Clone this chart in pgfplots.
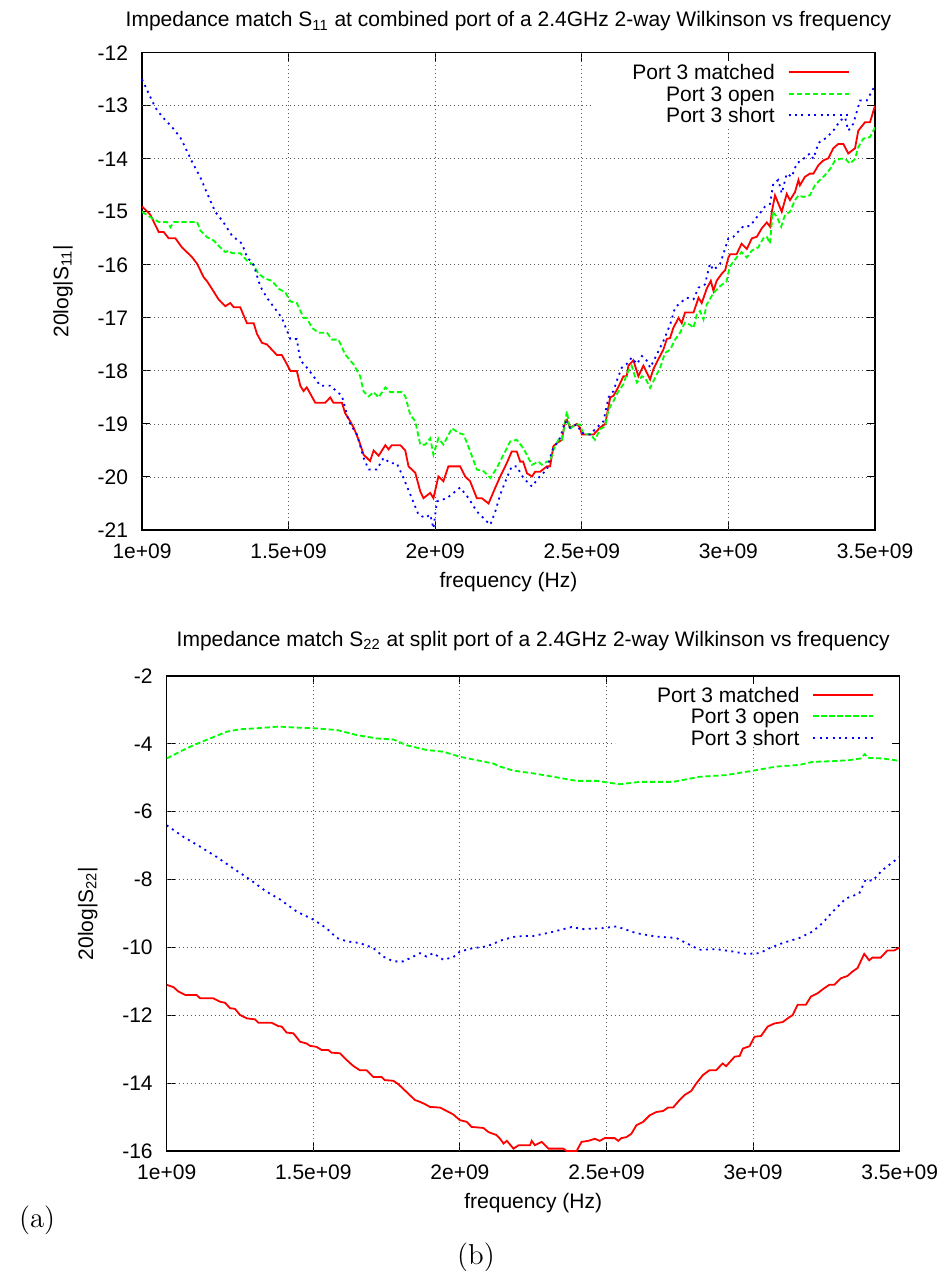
\documentclass[border=0pt]{standalone}
\usepackage{pgfplots}
\pgfplotsset{compat=1.18}
\usepackage{fontspec}
\newfontfamily\gpfont{Liberation Sans}
\newcommand\gpfs{\gpfont\fontsize{10.5}{12.6}\selectfont}
\tikzset{gridl/.style={black!65, line width=0.45pt, dash pattern=on 0.6pt off 1.4pt}}
\pgfplotsset{
  gpaxis/.style={
    scale only axis, width=366.5pt,
    xmin=1, xmax=3.5, enlargelimits=false,
    xtick={1,1.5,2,2.5,3,3.5},
    xticklabels={1e+09,1.5e+09,2e+09,2.5e+09,3e+09,3.5e+09},
    tick align=inside, major tick length=4pt,
    tick style={black, line width=0.5pt},
    axis line style={black, line width=0.75pt},
    font=\gpfs,
    xticklabel style={font=\gpfs, anchor=base, yshift=-14pt},
    yticklabel style={font=\gpfs, anchor=east, xshift=-3.5pt},
    xlabel style={font=\gpfs, at={(axis description cs:0.5,0)}, anchor=base, yshift=-28.75pt},
    ylabel style={font=\gpfs, at={(axis description cs:-0.1078,0.5)}, anchor=center},
    title style={font=\gpfs, at={(axis description cs:0.5,1)}, anchor=base},
    legend style={draw=none, fill=none, at={(axis description cs:1,1)}, anchor=north east,
      xshift=-12.5pt, inner xsep=0pt, inner ysep=0pt, row sep=0pt, column sep=6pt,
      nodes={inner sep=0.5pt, text height=7.5pt, text depth=2.2pt}, font=\gpfs},
    legend cell align=right,
    legend plot pos=right,
    legend image code/.code={\draw[##1] (0pt,1.1pt) -- (30pt,1.1pt);},
  },
  matched/.style={color=red, line width=0.9pt},
  open/.style={color=green, line width=0.9pt, dash pattern=on 2.6pt off 1.4pt},
  short/.style={color=blue, line width=0.9pt, dash pattern=on 1pt off 2.2pt},
}
\begin{document}
\begin{tikzpicture}
\path[use as bounding box] (0pt,0pt) rectangle (473pt,-635.5pt);
% ---------------- top plot ----------------
\begin{axis}[gpaxis,
  at={(71pt,-265pt)}, anchor=south west, height=238.65pt,
  ymin=-21, ymax=-12,
  ytick={-21,-20,-19,-18,-17,-16,-15,-14,-13,-12},
  yticklabels={-21,-20,-19,-18,-17,-16,-15,-14,-13,-12},
  title style={yshift=7pt},
  legend style={yshift=-5.3pt},
  title={Impedance match S\textsubscript{11} at combined port of a 2.4GHz 2-way Wilkinson vs frequency},
  xlabel={frequency (Hz)},
  ylabel={20log|S\textsubscript{11}|},
]
% grid (hidden behind the key area, as in the original)
\draw[gridl] (axis cs:1.5,-21) -- (axis cs:1.5,-12);
\draw[gridl] (axis cs:2,-21) -- (axis cs:2,-12);
\draw[gridl] (axis cs:2.5,-21) -- (axis cs:2.5,-12);
\draw[gridl] (axis cs:3,-21) -- (axis cs:3,-13.40);
\draw[gridl] (axis cs:1,-20) -- (axis cs:3.5,-20);
\draw[gridl] (axis cs:1,-19) -- (axis cs:3.5,-19);
\draw[gridl] (axis cs:1,-18) -- (axis cs:3.5,-18);
\draw[gridl] (axis cs:1,-17) -- (axis cs:3.5,-17);
\draw[gridl] (axis cs:1,-16) -- (axis cs:3.5,-16);
\draw[gridl] (axis cs:1,-15) -- (axis cs:3.5,-15);
\draw[gridl] (axis cs:1,-14) -- (axis cs:3.5,-14);
\draw[gridl] (axis cs:1,-13) -- (axis cs:2.534,-13);
\addplot[matched] coordinates {
(1.000,-14.90) (1.028,-15.05) (1.057,-15.38) (1.074,-15.38) (1.091,-15.50) (1.114,-15.50) (1.136,-15.67) (1.153,-15.76)
(1.170,-15.85) (1.188,-15.98) (1.210,-16.23) (1.222,-16.31) (1.244,-16.50) (1.261,-16.65) (1.284,-16.78) (1.301,-16.72)
(1.313,-16.80) (1.335,-16.80) (1.358,-17.10) (1.381,-17.10) (1.392,-17.30) (1.409,-17.47) (1.426,-17.50) (1.443,-17.60)
(1.460,-17.70) (1.477,-17.70) (1.494,-17.87) (1.506,-18.00) (1.528,-18.00) (1.540,-18.28) (1.551,-18.38) (1.562,-18.31)
(1.591,-18.60) (1.625,-18.60) (1.642,-18.50) (1.653,-18.60) (1.682,-18.60) (1.693,-18.80) (1.705,-18.90) (1.722,-19.07)
(1.739,-19.30) (1.756,-19.58) (1.778,-19.70) (1.790,-19.50) (1.807,-19.60) (1.830,-19.40) (1.841,-19.48) (1.852,-19.40)
(1.881,-19.40) (1.898,-19.50) (1.909,-19.80) (1.932,-19.92) (1.949,-20.27) (1.960,-20.40) (1.983,-20.30) (1.994,-20.40)
(2.011,-19.99) (2.028,-20.08) (2.045,-19.80) (2.085,-19.80) (2.102,-19.99) (2.119,-20.08) (2.142,-20.40) (2.159,-20.40)
(2.182,-20.50) (2.205,-20.20) (2.222,-19.99) (2.244,-19.74) (2.261,-19.52) (2.278,-19.52) (2.290,-19.71) (2.300,-19.71)
(2.313,-19.93) (2.330,-19.99) (2.341,-19.90) (2.358,-19.90) (2.381,-19.80) (2.392,-19.80) (2.403,-19.42) (2.415,-19.36)
(2.432,-19.30) (2.443,-18.95) (2.449,-18.92) (2.460,-19.07) (2.483,-19.00) (2.494,-19.07) (2.500,-19.20) (2.540,-19.20)
(2.562,-19.07) (2.580,-19.00) (2.597,-18.50) (2.608,-18.47) (2.625,-18.30) (2.642,-18.10) (2.653,-18.10) (2.659,-17.90)
(2.676,-17.80) (2.693,-18.10) (2.710,-17.90) (2.733,-18.16) (2.744,-17.97) (2.761,-17.78) (2.778,-17.60) (2.790,-17.40)
(2.801,-17.38) (2.812,-17.19) (2.830,-17.00) (2.841,-17.10) (2.852,-16.90) (2.881,-16.90) (2.898,-16.62) (2.909,-16.72)
(2.926,-16.45) (2.940,-16.30) (2.949,-16.49) (2.960,-16.30) (2.977,-16.17) (2.989,-16.10) (3.000,-15.86) (3.006,-15.80)
(3.028,-15.80) (3.045,-15.60) (3.063,-15.70) (3.080,-15.50) (3.097,-15.47) (3.114,-15.31) (3.131,-15.20) (3.142,-15.28)
(3.148,-15.00) (3.159,-14.69) (3.182,-15.00) (3.199,-14.66) (3.210,-14.78) (3.227,-14.63) (3.239,-14.40) (3.244,-14.50)
(3.261,-14.34) (3.278,-14.28) (3.290,-14.28) (3.307,-14.12) (3.324,-14.03) (3.341,-13.99) (3.358,-13.80) (3.375,-13.72)
(3.392,-13.72) (3.409,-13.90) (3.432,-13.80) (3.443,-13.47) (3.466,-13.31) (3.483,-13.31) (3.500,-13.00)
};
\addlegendentry{Port 3 matched}
\addplot[open] coordinates {
(1.000,-15.00) (1.028,-15.10) (1.057,-15.19) (1.085,-15.19) (1.097,-15.29) (1.108,-15.19) (1.188,-15.19) (1.199,-15.35)
(1.222,-15.48) (1.244,-15.54) (1.261,-15.64) (1.284,-15.76) (1.295,-15.73) (1.307,-15.78) (1.335,-15.78) (1.358,-15.92)
(1.381,-16.01) (1.398,-16.17) (1.420,-16.26) (1.443,-16.30) (1.466,-16.45) (1.489,-16.52) (1.506,-16.69) (1.528,-16.72)
(1.551,-17.00) (1.562,-17.00) (1.580,-17.19) (1.602,-17.28) (1.631,-17.28) (1.648,-17.41) (1.670,-17.41) (1.693,-17.69)
(1.722,-17.88) (1.744,-18.10) (1.756,-18.39) (1.773,-18.48) (1.790,-18.40) (1.807,-18.50) (1.830,-18.31) (1.847,-18.40)
(1.886,-18.40) (1.898,-18.48) (1.915,-18.83) (1.932,-18.95) (1.949,-19.39) (1.966,-19.39) (1.983,-19.27) (1.994,-19.58)
(2.011,-19.27) (2.028,-19.39) (2.057,-19.08) (2.080,-19.17) (2.097,-19.20) (2.119,-19.51) (2.142,-19.86) (2.165,-19.89)
(2.188,-20.02) (2.210,-19.83) (2.233,-19.58) (2.256,-19.33) (2.278,-19.30) (2.301,-19.46) (2.330,-19.77) (2.352,-19.71)
(2.364,-19.77) (2.381,-19.71) (2.392,-19.71) (2.403,-19.49) (2.420,-19.30) (2.432,-19.30) (2.443,-18.98) (2.449,-18.76)
(2.460,-19.10) (2.477,-19.01) (2.494,-19.01) (2.506,-19.20) (2.528,-19.19) (2.545,-19.30) (2.562,-19.10) (2.580,-19.04)
(2.591,-18.73) (2.608,-18.57) (2.625,-18.38) (2.642,-18.25) (2.653,-18.06) (2.670,-17.90) (2.688,-18.22) (2.705,-18.10)
(2.716,-18.13) (2.733,-18.32) (2.750,-18.13) (2.767,-17.94) (2.784,-17.66) (2.801,-17.60) (2.818,-17.41) (2.835,-17.28)
(2.852,-17.09) (2.869,-17.13) (2.881,-17.19) (2.892,-16.94) (2.903,-16.87) (2.915,-17.03) (2.926,-16.75) (2.949,-16.53)
(2.972,-16.40) (2.994,-16.31) (3.004,-16.04) (3.028,-15.86) (3.045,-15.76) (3.063,-15.86) (3.080,-15.73) (3.102,-15.67)
(3.119,-15.50) (3.131,-15.47) (3.142,-15.60) (3.151,-15.00) (3.165,-15.09) (3.180,-15.28) (3.193,-15.06) (3.210,-15.00)
(3.227,-14.78) (3.239,-14.69) (3.256,-14.72) (3.278,-14.69) (3.295,-14.50) (3.312,-14.40) (3.329,-14.31) (3.347,-14.19)
(3.364,-14.03) (3.381,-14.00) (3.398,-14.00) (3.415,-14.09) (3.432,-14.00) (3.443,-13.78) (3.460,-13.62) (3.483,-13.59)
(3.500,-13.41)
};
\addlegendentry{Port 3 open}
\addplot[short] coordinates {
(1.000,-12.50) (1.045,-13.03) (1.068,-13.20) (1.102,-13.40) (1.131,-13.60) (1.153,-13.85) (1.170,-14.05) (1.199,-14.35)
(1.222,-14.65) (1.250,-15.00) (1.278,-15.20) (1.307,-15.45) (1.341,-15.60) (1.358,-15.85) (1.381,-16.00) (1.403,-16.40)
(1.426,-16.62) (1.477,-17.00) (1.506,-17.40) (1.528,-17.40) (1.540,-17.80) (1.557,-17.90) (1.585,-18.10) (1.608,-18.28)
(1.642,-18.28) (1.682,-18.47) (1.705,-18.95) (1.733,-19.20) (1.756,-19.64) (1.773,-19.86) (1.801,-19.86) (1.824,-19.64)
(1.847,-19.74) (1.869,-19.74) (1.892,-20.02) (1.915,-20.33) (1.943,-20.71) (1.966,-20.77) (1.983,-20.71) (1.994,-20.97)
(2.006,-20.46) (2.040,-20.40) (2.085,-20.20) (2.114,-20.40) (2.142,-20.65) (2.176,-20.84) (2.188,-20.90) (2.205,-20.65)
(2.222,-20.33) (2.244,-20.02) (2.261,-19.80) (2.278,-19.80) (2.301,-20.02) (2.330,-20.18) (2.352,-20.02) (2.381,-19.86)
(2.398,-19.51) (2.426,-19.26) (2.443,-18.95) (2.460,-19.07) (2.483,-19.01) (2.500,-19.17) (2.528,-19.20) (2.551,-19.07)
(2.574,-18.95) (2.591,-18.50) (2.608,-18.38) (2.619,-18.19) (2.636,-17.94) (2.653,-17.87) (2.670,-17.75) (2.688,-17.87)
(2.705,-17.72) (2.722,-17.81) (2.733,-17.94) (2.756,-17.69) (2.778,-17.44) (2.801,-17.13) (2.818,-16.81) (2.835,-16.72)
(2.858,-16.62) (2.881,-16.65) (2.898,-16.43) (2.920,-16.37) (2.937,-15.98) (2.949,-16.10) (2.972,-15.98) (3.000,-15.50)
(3.017,-15.47) (3.051,-15.27) (3.074,-15.27) (3.097,-15.10) (3.125,-14.90) (3.142,-14.85) (3.153,-14.47) (3.170,-14.40)
(3.182,-14.65) (3.199,-14.28) (3.216,-14.34) (3.233,-14.09) (3.256,-14.00) (3.278,-13.90) (3.290,-14.00) (3.307,-13.70)
(3.335,-13.60) (3.358,-13.47) (3.381,-13.28) (3.398,-13.22) (3.409,-13.47) (3.426,-13.34) (3.449,-12.90) (3.472,-12.90)
(3.500,-12.62)
};
\addlegendentry{Port 3 short}
\end{axis}
% ---------------- bottom plot ----------------
\begin{axis}[gpaxis,
  at={(83.35pt,-575.5pt)}, anchor=south west, height=237.5pt,
  ymin=-16, ymax=-2,
  ytick={-16,-14,-12,-10,-8,-6,-4,-2},
  yticklabels={-16,-14,-12,-10,-8,-6,-4,-2},
  title style={yshift=8.8pt},
  legend style={yshift=-5pt},
  title={Impedance match S\textsubscript{22} at split port of a 2.4GHz 2-way Wilkinson vs frequency},
  xlabel={frequency (Hz)},
  ylabel={20log|S\textsubscript{22}|},
]
\draw[gridl] (axis cs:1.5,-16) -- (axis cs:1.5,-2);
\draw[gridl] (axis cs:2,-16) -- (axis cs:2,-2);
\draw[gridl] (axis cs:2.5,-16) -- (axis cs:2.5,-2);
\draw[gridl] (axis cs:3,-16) -- (axis cs:3,-4.09);
\draw[gridl] (axis cs:1,-14) -- (axis cs:3.5,-14);
\draw[gridl] (axis cs:1,-12) -- (axis cs:3.5,-12);
\draw[gridl] (axis cs:1,-10) -- (axis cs:3.5,-10);
\draw[gridl] (axis cs:1,-8) -- (axis cs:3.5,-8);
\draw[gridl] (axis cs:1,-6) -- (axis cs:3.5,-6);
\draw[gridl] (axis cs:1,-4) -- (axis cs:2.528,-4);
\addplot[matched] coordinates {
(1.000,-11.10) (1.023,-11.17) (1.040,-11.30) (1.063,-11.40) (1.102,-11.40) (1.114,-11.50) (1.159,-11.50) (1.182,-11.60)
(1.199,-11.63) (1.216,-11.79) (1.233,-11.81) (1.250,-11.99) (1.273,-12.09) (1.301,-12.12) (1.313,-12.22) (1.358,-12.22)
(1.381,-12.32) (1.392,-12.33) (1.409,-12.51) (1.432,-12.53) (1.455,-12.78) (1.477,-12.83) (1.489,-12.90) (1.511,-12.93)
(1.528,-13.02) (1.551,-13.02) (1.562,-13.10) (1.591,-13.12) (1.614,-13.32) (1.636,-13.49) (1.659,-13.62) (1.682,-13.62)
(1.705,-13.82) (1.733,-13.82) (1.744,-13.91) (1.773,-13.93) (1.790,-14.03) (1.818,-14.26) (1.847,-14.50) (1.864,-14.55)
(1.881,-14.62) (1.898,-14.70) (1.932,-14.72) (1.955,-14.82) (1.977,-14.92) (2.000,-15.09) (2.023,-15.14) (2.040,-15.29)
(2.080,-15.32) (2.097,-15.44) (2.125,-15.53) (2.137,-15.64) (2.149,-15.78) (2.160,-15.70) (2.183,-15.93) (2.200,-15.83)
(2.239,-15.83) (2.245,-15.70) (2.256,-15.83) (2.279,-15.73) (2.302,-15.93) (2.353,-15.93) (2.364,-16.00) (2.398,-16.00)
(2.415,-15.73) (2.438,-15.70) (2.460,-15.64) (2.477,-15.70) (2.494,-15.62) (2.528,-15.62) (2.540,-15.70) (2.551,-15.62)
(2.568,-15.59) (2.585,-15.49) (2.602,-15.24) (2.625,-15.14) (2.647,-14.95) (2.670,-14.85) (2.693,-14.82) (2.710,-14.72)
(2.727,-14.72) (2.749,-14.50) (2.766,-14.35) (2.789,-14.23) (2.806,-14.01) (2.829,-13.76) (2.851,-13.62) (2.874,-13.62)
(2.896,-13.42) (2.908,-13.50) (2.937,-13.22) (2.954,-13.20) (2.965,-12.98) (2.988,-12.91) (3.005,-12.63) (3.027,-12.61)
(3.050,-12.33) (3.073,-12.24) (3.101,-12.20) (3.118,-12.09) (3.135,-11.99) (3.152,-11.69) (3.180,-11.69) (3.197,-11.45)
(3.220,-11.35) (3.243,-11.20) (3.260,-11.10) (3.277,-11.10) (3.299,-10.91) (3.322,-10.84) (3.339,-10.71) (3.356,-10.61)
(3.379,-10.19) (3.396,-10.38) (3.407,-10.30) (3.435,-10.30) (3.458,-10.09) (3.481,-10.09) (3.500,-10.00)
};
\addlegendentry{Port 3 matched}
\addplot[open] coordinates {
(1.000,-4.43) (1.045,-4.23) (1.091,-4.04) (1.148,-3.84) (1.205,-3.64) (1.250,-3.57) (1.307,-3.54) (1.381,-3.49)
(1.443,-3.52) (1.500,-3.54) (1.580,-3.59) (1.648,-3.74) (1.716,-3.84) (1.773,-3.87) (1.818,-4.04) (1.886,-4.18)
(1.943,-4.23) (2.000,-4.38) (2.057,-4.48) (2.114,-4.58) (2.137,-4.67) (2.183,-4.79) (2.251,-4.87) (2.319,-4.97)
(2.398,-5.09) (2.466,-5.09) (2.545,-5.19) (2.613,-5.12) (2.727,-5.12) (2.817,-4.97) (2.908,-4.92) (3.000,-4.79)
(3.078,-4.67) (3.158,-4.62) (3.203,-4.53) (3.271,-4.51) (3.328,-4.48) (3.367,-4.43) (3.381,-4.30) (3.390,-4.41)
(3.441,-4.43) (3.500,-4.50)
};
\addlegendentry{Port 3 open}
\addplot[short] coordinates {
(1.000,-6.40) (1.057,-6.74) (1.114,-7.03) (1.170,-7.33) (1.227,-7.67) (1.284,-8.00) (1.341,-8.36) (1.386,-8.58)
(1.443,-8.94) (1.500,-9.18) (1.545,-9.43) (1.580,-9.72) (1.614,-9.82) (1.659,-9.87) (1.705,-10.02) (1.739,-10.27)
(1.773,-10.41) (1.807,-10.41) (1.841,-10.27) (1.864,-10.17) (1.886,-10.27) (1.909,-10.17) (1.943,-10.36) (1.977,-10.29)
(2.000,-10.12) (2.045,-10.02) (2.091,-9.97) (2.148,-9.77) (2.194,-9.67) (2.251,-9.66) (2.307,-9.56) (2.381,-9.40)
(2.421,-9.46) (2.489,-9.43) (2.534,-9.38) (2.602,-9.58) (2.670,-9.68) (2.738,-9.72) (2.783,-9.92) (2.817,-10.07)
(2.874,-10.05) (2.931,-10.12) (2.976,-10.19) (3.022,-10.17) (3.056,-10.02) (3.101,-9.87) (3.158,-9.72) (3.203,-9.53)
(3.237,-9.28) (3.271,-8.95) (3.316,-8.56) (3.362,-8.41) (3.384,-8.00) (3.407,-8.04) (3.441,-7.72) (3.500,-7.33)
};
\addlegendentry{Port 3 short}
\end{axis}
\node[anchor=base west, font=\fontsize{14.4}{17}\selectfont] at (6pt,-613.5pt) {(a)};
\node[anchor=base, font=\fontsize{14.4}{17}\selectfont] at (238pt,-632pt) {(b)};
\end{tikzpicture}
\end{document}
